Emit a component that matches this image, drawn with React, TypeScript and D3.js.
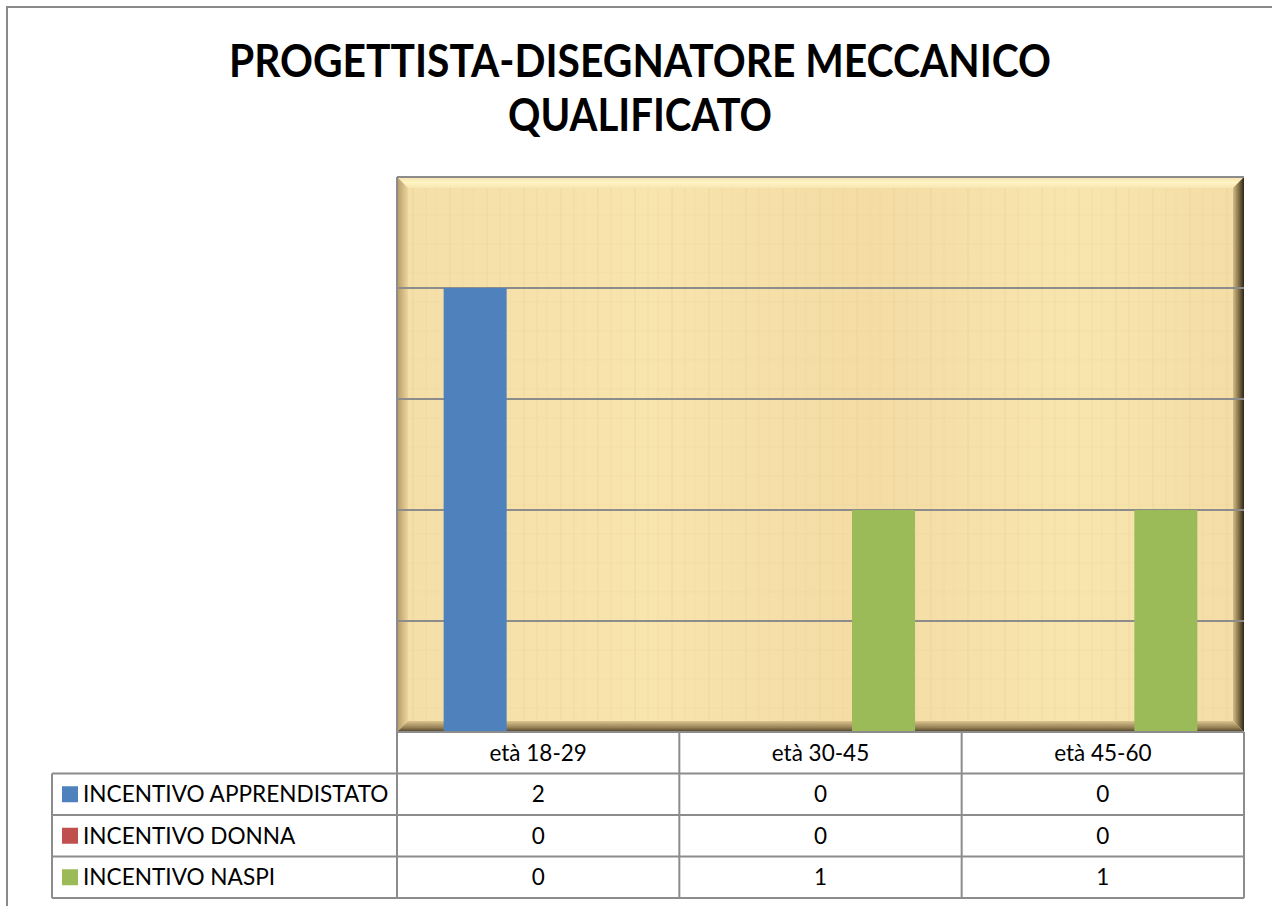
import React from "react";
import * as d3 from "d3";

const categories = ["età 18-29", "età 30-45", "età 45-60"];
const seriesNames = ["INCENTIVO APPRENDISTATO", "INCENTIVO DONNA", "INCENTIVO NASPI"];
const seriesColors = ["#4f81bd", "#c0504d", "#9bbb59"];
const apprendistato = [2, 0, 0];
const donna = [0, 0, 0];
const naspi = [0, 1, 1];
const yTicks = [0, 0.5, 1, 1.5, 2, 2.5];
const titleLines = ["PROGETTISTA-DISEGNATORE MECCANICO", "QUALIFICATO"];

const seriesValues = [apprendistato, donna, naspi];

export default function App() {
  const W = 1272, H = 906;
  const pl = 397, pr = 1244, pt = 177, pb = 732;
  const rowH = 41.5;
  const legendLeft = 52;
  const font = "Lato, 'Open Sans', sans-serif";
  const grid = "#8c8c8c";

  const x0 = d3.scaleBand<string>().domain(categories).range([pl, pr]).paddingInner(0).paddingOuter(0);
  const x1 = d3.scaleBand<string>().domain(seriesNames).range([0, x0.bandwidth()]).paddingInner(0).paddingOuter(0.74);
  const y = d3.scaleLinear().domain([0, 2.5]).range([pb, pt]);

  const titleWidths = [822, 264];
  const bev = 11;
  return (
    <svg width={W} height={H} style={{ position: "absolute", left: 0, top: 0 }} xmlns="http://www.w3.org/2000/svg">
      <defs>
        <linearGradient id="paper" x1="0" y1="0" x2="1" y2="0">
          <stop offset="0" stopColor="#f5dfa8" />
          <stop offset="0.3" stopColor="#f8e4ad" />
          <stop offset="0.55" stopColor="#f4dca4" />
          <stop offset="0.8" stopColor="#f8e5ae" />
          <stop offset="1" stopColor="#f4dda5" />
        </linearGradient>
        <pattern id="fibers" width="37" height="29" patternUnits="userSpaceOnUse">
          <rect width="37" height="29" fill="none" />
          <line x1="6" y1="0" x2="6" y2="29" stroke="#e2c890" strokeWidth="1.5" opacity="0.3" />
          <line x1="19" y1="0" x2="19" y2="29" stroke="#ead39c" strokeWidth="2" opacity="0.25" />
          <line x1="29" y1="0" x2="29" y2="29" stroke="#e6cc94" strokeWidth="1" opacity="0.25" />
          <line x1="0" y1="12" x2="37" y2="12" stroke="#e3c992" strokeWidth="1" opacity="0.2" />
        </pattern>
        <linearGradient id="bevR" x1="0" y1="0" x2="1" y2="0">
          <stop offset="0" stopColor="#d6bd86" />
          <stop offset="0.6" stopColor="#76653f" />
          <stop offset="1" stopColor="#2e2618" />
        </linearGradient>
        <linearGradient id="bevB" x1="0" y1="0" x2="0" y2="1">
          <stop offset="0" stopColor="#dcc48e" />
          <stop offset="0.6" stopColor="#958055" />
          <stop offset="1" stopColor="#4a3e28" />
        </linearGradient>
        <linearGradient id="bevT" x1="0" y1="0" x2="0" y2="1">
          <stop offset="0" stopColor="#f6e2ac" />
          <stop offset="0.5" stopColor="#fff4c4" />
          <stop offset="1" stopColor="#f8e6b0" />
        </linearGradient>
        <linearGradient id="bevL" x1="0" y1="0" x2="1" y2="0">
          <stop offset="0" stopColor="#b69a66" />
          <stop offset="1" stopColor="#ecd59f" />
        </linearGradient>
      </defs>
      <rect x={0} y={0} width={W} height={H} fill="#ffffff" />
      <rect x={7} y={7} width={W + 20} height={H + 20} fill="none" stroke="#8a8a8a" strokeWidth={2} />

      {titleLines.map((t, i) => (
        <text key={t} x={640} y={77 + i * 54} textAnchor="middle" fontFamily={font} fontWeight={700} fontSize={45}
          textLength={titleWidths[i]} lengthAdjust="spacingAndGlyphs" fill="#000">
          {t}
        </text>
      ))}

      {/* plot area */}
      <rect x={pl} y={pt} width={pr - pl} height={pb - pt} fill="url(#paper)" />
      <rect x={pl} y={pt} width={pr - pl} height={pb - pt} fill="url(#fibers)" />
      <polygon points={`${pl},${pt} ${pr},${pt} ${pr - bev},${pt + bev} ${pl + bev},${pt + bev}`} fill="url(#bevT)" />
      <polygon points={`${pl},${pt} ${pl + bev},${pt + bev} ${pl + bev},${pb - bev} ${pl},${pb}`} fill="url(#bevL)" />
      <polygon points={`${pr},${pt} ${pr},${pb} ${pr - bev},${pb - bev} ${pr - bev},${pt + bev}`} fill="url(#bevR)" />
      <polygon points={`${pl},${pb} ${pr},${pb} ${pr - bev},${pb - bev} ${pl + bev},${pb - bev}`} fill="url(#bevB)" />
      <line x1={pl} x2={pr} y1={pt} y2={pt} stroke={grid} strokeWidth={2} />

      {yTicks.filter((t) => t > 0 && t < 2.5).map((t) => (
        <line key={t} x1={pl} x2={pr} y1={y(t)} y2={y(t)} stroke={grid} strokeWidth={2} />
      ))}

      {categories.map((c, ci) => (
        <g key={c}>
          {seriesNames.map((s, si) => {
            const v = seriesValues[si][ci];
            if (v <= 0) return null;
            return (
              <rect key={s} x={(x0(c) as number) + (x1(s) as number)} y={y(v)} width={x1.bandwidth()} height={y(0) - y(v)} fill={seriesColors[si]} />
            );
          })}
        </g>
      ))}

      {/* data table */}
      <g stroke={grid} strokeWidth={2} fill="none">
        <line x1={pl} x2={pr} y1={pb} y2={pb} />
        {[1, 2, 3].map((r) => (
          <line key={r} x1={legendLeft} x2={pr} y1={pb + r * rowH} y2={pb + r * rowH} />
        ))}
        <line x1={legendLeft} x2={legendLeft} y1={pb + rowH} y2={pb + 4 * rowH} />
        <line x1={legendLeft} x2={pr} y1={pb + 4 * rowH} y2={pb + 4 * rowH} />
        <line x1={pl} x2={pl} y1={pt} y2={pb + 4 * rowH} />
        {categories.map((c) => (
          <line key={c} x1={(x0(c) as number) + x0.bandwidth()} x2={(x0(c) as number) + x0.bandwidth()} y1={pb} y2={pb + 4 * rowH} />
        ))}
      </g>
      {categories.map((c) => (
        <text key={c} x={(x0(c) as number) + x0.bandwidth() / 2} y={pb + rowH / 2 + 8} textAnchor="middle" fontFamily={font} fontSize={22.5} fill="#000">
          {c}
        </text>
      ))}
      {seriesNames.map((s, si) => (
        <g key={s}>
          <rect x={62} y={pb + (si + 1) * rowH + rowH / 2 - 8} width={16} height={16} fill={seriesColors[si]} />
          <text x={83} y={pb + (si + 1) * rowH + rowH / 2 + 8} fontFamily={font} fontSize={22.6} fill="#000">
            {s}
          </text>
          {categories.map((c, ci) => (
            <text key={c} x={(x0(c) as number) + x0.bandwidth() / 2} y={pb + (si + 1) * rowH + rowH / 2 + 8} textAnchor="middle" fontFamily={font} fontSize={22.5} fill="#000">
              {seriesValues[si][ci]}
            </text>
          ))}
        </g>
      ))}
    </svg>
  );
}
